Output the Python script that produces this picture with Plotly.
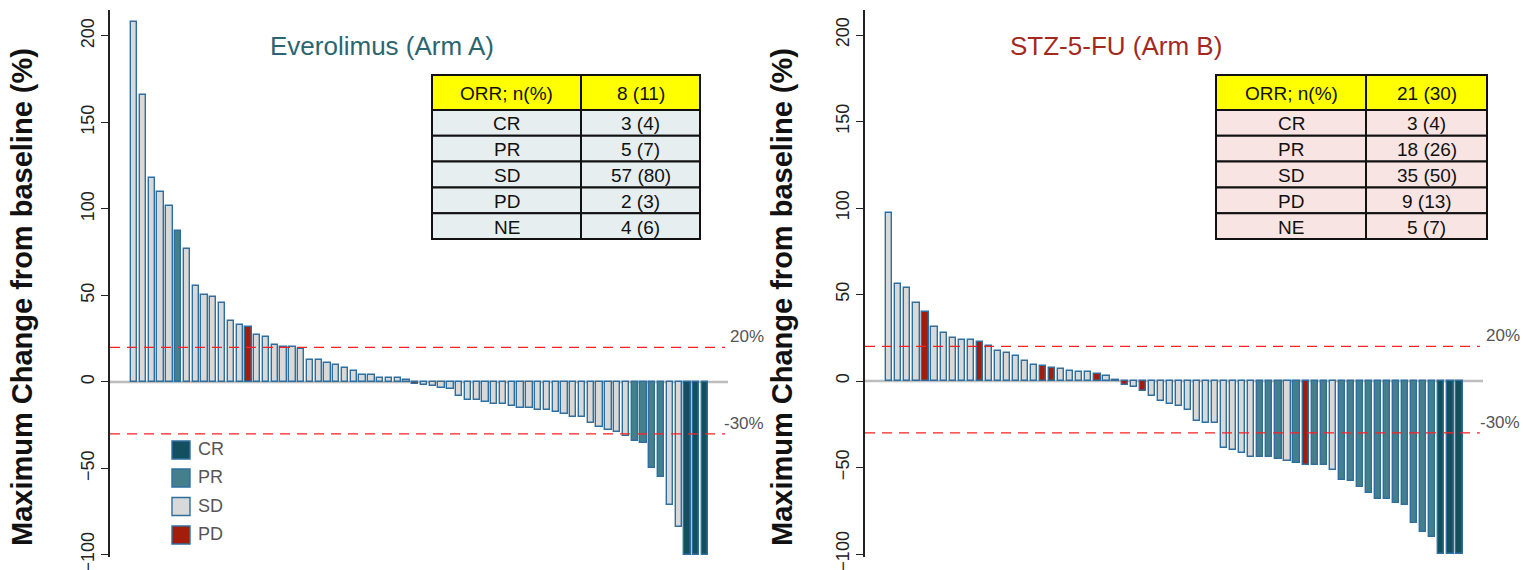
import plotly.graph_objects as go

W, H = 1523, 570

# ---------------- data ----------------
arm_a_values = [208, 166, 118, 110, 101.5, 87.5, 77, 55.5, 50, 49, 45.5, 35.5, 33, 32, 27, 26,
                21.5, 20, 20, 19, 12.5, 12.5, 11, 10, 8, 6.5, 4, 4, 2.5, 2, 2, 1,
                -1, -1.5, -2.5, -3.5, -4, -8, -10.5, -10.5, -11.5, -12.5, -12.5, -14, -15, -15,
                -16, -16, -17.5, -18.5, -20, -20, -23.5, -26, -28, -29, -31, -34, -35.5,
                -49.5, -55, -71, -84, -100, -100, -100]
arm_a_resp = (["SD"] * 5 + ["PR"] + ["SD"] * 7 + ["PD"] + ["SD"] * 18 + ["PD"] +
              ["SD"] * 24 + ["PR"] * 4 + ["SD"] * 2 + ["CR"] * 3)

arm_b_values = [97, 56, 53.5, 45, 40, 31.5, 28, 25, 24, 23.5, 22.5, 20.5, 17.5, 16, 14.5, 11.5,
                9.5, 8.5, 7.5, 7, 6, 5.5, 5, 4, 3, 0.5, -2, -3.5, -5.5, -8.5, -11.5, -13,
                -14.5, -16.5, -23, -24, -24, -38.5, -40, -41.5, -44, -44, -44, -45, -46.5,
                -47.5, -48.5, -48.5, -48.5, -51.5, -57, -58, -61, -64.5, -68, -68, -70.5,
                -71.5, -82, -87, -90, -100, -100, -100]
arm_b_resp = (["SD"] * 4 + ["PD"] + ["SD"] * 5 + ["PD"] + ["SD"] * 6 + ["PD", "PD"] +
              ["SD"] * 4 + ["PD"] + ["SD"] * 2 + ["PD", "SD", "PD"] + ["SD"] * 12 +
              ["PR"] * 3 + ["SD"] + ["PR"] + ["PD"] + ["PR"] * 2 + ["SD"] + ["PR"] * 11 +
              ["CR"] * 3)

table_rows = ["CR", "PR", "SD", "PD", "NE"]
table_header = ["ORR; n(%)"]
arm_a_orr = "8 (11)"
arm_a_counts = ["3 (4)", "5 (7)", "57 (80)", "2 (3)", "4 (6)"]
arm_b_orr = "21 (30)"
arm_b_counts = ["3 (4)", "18 (26)", "35 (50)", "9 (13)", "5 (7)"]

legend_items = ["CR", "PR", "SD", "PD"]
ytick_vals = [-100, -50, 0, 50, 100, 150, 200]
ref_lines = [20, -30]
ref_labels = ["20%", "-30%"]

# ---------------- style ----------------
FONT = "Liberation Sans, Arial, sans-serif"
colors = {"CR": "#13505f", "PR": "#44808c", "SD": "#d9d9d9", "PD": "#a31d0c"}
outline = "#2f6f9f"

def px_x(p):
    return p / W

def px_y(p):
    return 1 - p / H

fig = go.Figure()

fig.add_trace(go.Bar(
    x=list(range(1, len(arm_a_values) + 1)), y=arm_a_values,
    marker=dict(color=[colors[c] for c in arm_a_resp], line=dict(color=outline, width=1.4)),
    width=0.72, xaxis="x", yaxis="y", showlegend=False))
fig.add_trace(go.Bar(
    x=list(range(1, len(arm_b_values) + 1)), y=arm_b_values,
    marker=dict(color=[colors[c] for c in arm_b_resp], line=dict(color=outline, width=1.4)),
    width=0.68, xaxis="x2", yaxis="y2", showlegend=False))

ydom = [px_y(557), px_y(10)]
yax = dict(domain=ydom, tickvals=ytick_vals, tickangle=-90, ticks="outside", ticklen=7,
           tickwidth=1.3, tickcolor="#222", showline=True, linecolor="#222", linewidth=1.5,
           showgrid=False, zeroline=False, ticklabeloverflow="allow", automargin=False,
           tickfont=dict(family=FONT, size=18, color="#222"))
xax = dict(showline=False, showticklabels=False, ticks="", showgrid=False, zeroline=False,
           automargin=False)

fig.update_layout(
    width=W, height=H, margin=dict(l=0, r=0, t=0, b=0, autoexpand=False),
    paper_bgcolor="white", plot_bgcolor="white", bargap=0,
    xaxis=dict(xax, domain=[px_x(110), px_x(728)], range=[-1.768, 68.62]),
    xaxis2=dict(xax, domain=[px_x(865), px_x(1483)], range=[-1.685, 66.6], anchor="y2"),
    yaxis=dict(yax, range=[-101.2, 215.0], anchor="x"),
    yaxis2=dict(yax, range=[-101.7, 214.45], anchor="x2"),
)

shapes = []
annotations = []

def note(x, y, text, size, color, xanchor="center", yanchor="middle", **kw):
    d = dict(xref="paper", yref="paper", x=x, y=y, text=text, showarrow=False,
             xanchor=xanchor, yanchor=yanchor, font=dict(family=FONT, size=size, color=color))
    d.update(kw)
    annotations.append(d)

for xr, yr, lab_x in [("x", "y", 766), ("x2", "y2", 1522)]:
    # zero line
    shapes.append(dict(type="line", xref=xr + " domain", yref=yr, x0=0, x1=1, y0=0, y1=0,
                       line=dict(color="#bdbdbd", width=2.5), layer="below"))
    for v, lab in zip(ref_lines, ref_labels):
        shapes.append(dict(type="line", xref=xr + " domain", yref=yr, x0=0, x1=0.995, y0=v, y1=v,
                           line=dict(color="#ff2020", width=1.2, dash="10px,7px"), layer="above"))
        note(px_x(lab_x), v, lab, 17, "#555", xanchor="right", yanchor="bottom", yref=yr, yshift=-1)

# axis titles
for cx in [22, 782]:
    note(px_x(cx), px_y(297), "<b>Maximum Change from baseline (%)</b>", 29, "#111", textangle=-90)

# panel titles
note(px_x(382), px_y(46), "Everolimus (Arm A)", 26, "#2b6670")
note(px_x(1116), px_y(46), "STZ-5-FU (Arm B)", 26, "#a3291f")

# tables
row_edges = [75, 110, 135.8, 161.6, 187.4, 213.2, 239]
def add_table(x0, xm, x1, orr, counts, fill):
    header = table_header + [orr]
    body = list(zip(table_rows, counts))
    cells = [header] + [list(r) for r in body]
    for i, row in enumerate(cells):
        ya, yb = row_edges[i], row_edges[i + 1]
        f = "#ffff00" if i == 0 else fill
        for (cx0, cx1), txt in zip([(x0, xm), (xm, x1)], row):
            shapes.append(dict(type="rect", xref="paper", yref="paper",
                               x0=px_x(cx0), x1=px_x(cx1), y0=px_y(yb), y1=px_y(ya),
                               fillcolor=f, line=dict(color="#111", width=2)))
            note(px_x((cx0 + cx1) / 2), px_y((ya + yb) / 2 + 1), txt, 19, "#111")

add_table(432, 581, 700, arm_a_orr, arm_a_counts, "#e6eef0")
add_table(1216, 1366, 1487, arm_b_orr, arm_b_counts, "#f9e4e4")

# legend
leg_centers = [450, 478, 506.5, 535]
for item, cy in zip(legend_items, leg_centers):
    shapes.append(dict(type="rect", xref="paper", yref="paper",
                       x0=px_x(172), x1=px_x(190), y0=px_y(cy + 9), y1=px_y(cy - 9),
                       fillcolor=colors[item], line=dict(color=outline, width=1.4)))
    note(px_x(196), px_y(cy - 1), item, 18, "#555", xanchor="left")

fig.update_layout(shapes=shapes, annotations=annotations)
fig.write_html("out.html")
